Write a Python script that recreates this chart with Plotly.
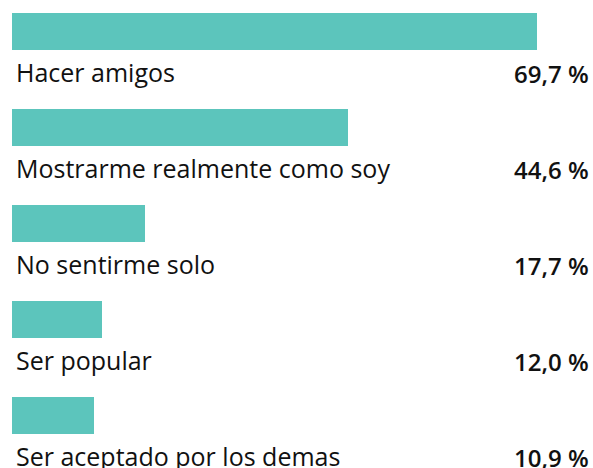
import plotly.graph_objects as go

categories = ["Hacer amigos", "Mostrarme realmente como soy", "No sentirme solo",
              "Ser popular", "Ser aceptado por los demas"]
values = [69.7, 44.6, 17.7, 12.0, 10.9]
value_labels = ["69,7 %", "44,6 %", "17,7 %", "12,0 %", "10,9 %"]

W, H = 593, 468
px_per_unit = 7.53
x0_px = 12
row_pitch = 96
first_center = 31
bar_h = 37
label_offset = 41
value_offset = 42

ys = [first_center + row_pitch * i for i in range(len(categories))]

fig = go.Figure()
fig.add_trace(go.Bar(
    x=values, y=ys, orientation="h", width=bar_h,
    marker=dict(color="#5cc5bc", line=dict(width=0)),
    hoverinfo="skip", showlegend=False,
))

annotations = []
for y, cat, vl in zip(ys, categories, value_labels):
    annotations.append(dict(
        x=0, xref="paper", y=y + label_offset, yref="y", text=cat,
        xanchor="left", yanchor="middle", xshift=14, showarrow=False,
        font=dict(family="Open Sans", size=25, color="#111111"),
    ))
    annotations.append(dict(
        x=1, xref="paper", y=y + value_offset, yref="y", text=vl,
        xanchor="right", yanchor="middle", xshift=-2, showarrow=False,
        font=dict(family="Open Sans", size=24, color="#111111", weight=600),
    ))

fig.update_layout(
    width=W, height=H,
    margin=dict(l=0, r=0, t=0, b=0),
    paper_bgcolor="white", plot_bgcolor="white",
    xaxis=dict(range=[-x0_px / px_per_unit, (W - x0_px) / px_per_unit],
               visible=False, fixedrange=True),
    yaxis=dict(range=[H, 0], visible=False, fixedrange=True),
    annotations=annotations,
    bargap=0,
)

fig.write_html(
    "out.html",
    config={"displayModeBar": False},
    post_script="document.body.style.margin='0';document.body.style.overflow='hidden';",
)
